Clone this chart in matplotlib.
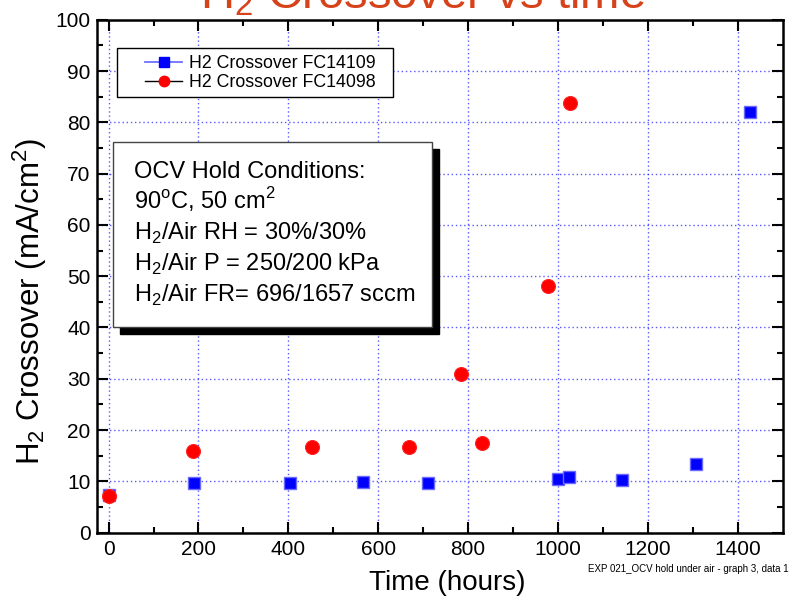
import matplotlib
matplotlib.use("Agg")
import matplotlib.pyplot as plt
from matplotlib.lines import Line2D
from matplotlib.patches import Rectangle

plt.rcParams['font.family'] = ['Liberation Sans', 'DejaVu Sans']
plt.rcParams['mathtext.fontset'] = 'custom'
plt.rcParams['mathtext.rm'] = 'Liberation Sans'

# data
hours_109 = [0, 190, 404, 566, 710, 1000, 1024, 1143, 1307, 1427]
xover_109 = [7.3, 9.6, 9.75, 9.95, 9.75, 10.5, 10.9, 10.3, 13.4, 82.0]

hours_098 = [0, 188, 453, 669, 785, 831, 977, 1026]
xover_098 = [7.2, 16.0, 16.7, 16.7, 31.0, 17.5, 48.1, 83.8]

labels = ['H2 Crossover FC14109', 'H2 Crossover FC14098']
box_lines = ['OCV Hold Conditions:',
             r'90$^\mathregular{o}$C, 50 cm$^\mathregular{2}$',
             r'H$_\mathregular{2}$/Air RH = 30%/30%',
             r'H$_\mathregular{2}$/Air P = 250/200 kPa',
             r'H$_\mathregular{2}$/Air FR= 696/1657 sccm']

fig = plt.figure(figsize=(7.9, 5.99), dpi=100)
ax = fig.add_axes([0.1232, 0.1107, 0.8676, 0.8564])

ax.plot(hours_109, xover_109, 's', color='#0000ff', mec='#6a6aff', mew=1, ms=8.5, zorder=5)
ax.plot(hours_098, xover_098, 'o', color='#ff0000', mec='#ff2020', mew=0.8, ms=10, zorder=6)

ax.set_xlim(-25, 1500)
ax.set_ylim(0, 100)
ax.set_xticks(range(0, 1401, 200))
ax.set_xticks(range(100, 1500, 200), minor=True)
ax.set_yticks(range(0, 101, 10))
ax.set_yticks(range(5, 100, 10), minor=True)
ax.tick_params(which='both', direction='in', top=True, right=True, width=1.5,
               labelsize=15, colors='black')
ax.tick_params(which='major', length=8, pad=5)
ax.tick_params(which='minor', length=4.5)
for s in ax.spines.values():
    s.set_linewidth(1.8)

ax.grid(True, which='major', color='#3030ff', linestyle=(0, (1, 2)), linewidth=1, alpha=0.8)
ax.set_axisbelow(True)

ax.set_xlabel('Time (hours)', fontsize=20)
ax.xaxis.set_label_coords(0.511, -0.073)
ax.set_ylabel(r'H$_\mathregular{2}$ Crossover (mA/cm$^\mathregular{2}$)', fontsize=22.5)
ax.yaxis.set_label_coords(-0.07, 0.45)

# legend: frame drawn separately so the handles sit further in
handles = [Line2D([], [], color='#7070ff', marker='s', mfc='#0000ff', mec='#0000ff', ms=6.5, lw=1.3),
           Line2D([], [], color='black', marker='o', mfc='#ff0000', mec='#ff0000', ms=7.5, lw=1)]
leg = ax.legend(handles, labels, loc='center left', bbox_to_anchor=(0.0696, 0.896),
                fontsize=12.8, frameon=False, handlelength=2.1,
                borderpad=0, labelspacing=0.15, handletextpad=0.4, borderaxespad=0)
leg.set_zorder(10)
ax.add_patch(Rectangle((0.0287, 0.8493), 0.4027, 0.0955, transform=ax.transAxes,
                       facecolor='white', edgecolor='black', lw=1, zorder=9))

# text box with drop shadow
bx, by, bw, bh = 0.0229, 0.401, 0.465, 0.3606
ax.add_patch(Rectangle((bx + 0.01, by - 0.013), bw, bh, transform=ax.transAxes,
                       facecolor='black', edgecolor='black', zorder=7))
ax.add_patch(Rectangle((bx, by), bw, bh, transform=ax.transAxes,
                       facecolor='white', edgecolor='#444444', lw=1, zorder=8))
y0 = 0.692
for i, line in enumerate(box_lines):
    ax.text(0.054, y0 - i * 0.0604, line, transform=ax.transAxes, fontsize=17,
            va='baseline', ha='left', zorder=9)

fig.text(0.535, 0.985, r'H$_\mathregular{2}$ Crossover vs time', color='#d6431a',
         fontsize=34, ha='center', va='baseline')
fig.text(0.744, 0.045, 'EXP 021_OCV hold under air - graph 3, data 1', fontsize=7.0,
         ha='left', va='baseline')

fig.savefig('out.png', dpi=100)
